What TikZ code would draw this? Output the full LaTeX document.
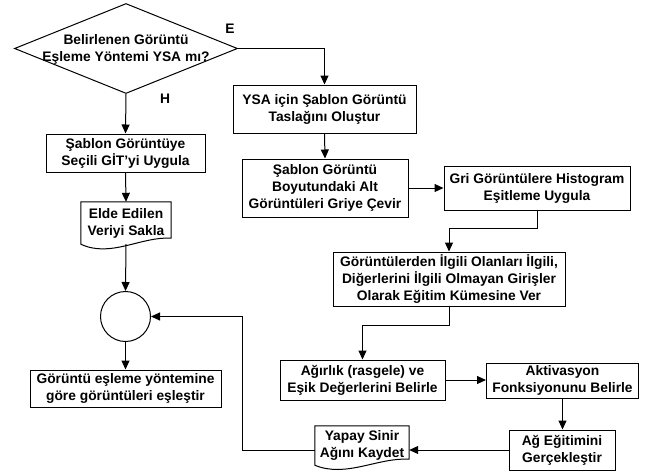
\documentclass[tikz,border=0pt]{standalone}
\usepackage{fontspec}
\setmainfont{Liberation Sans}
\usepackage{tikz}
\usetikzlibrary{arrows.meta,shapes.geometric,calc}

\tikzset{
    yazi/.style={font=\fontsize{13.8}{17}\selectfont\bfseries},
    kutu/.style={yazi, draw=black, line width=1pt, align=center, inner sep=0pt},
    belge/.style={yazi, align=center, inner sep=0pt},
    karar/.style={diamond, draw=black, line width=1pt, inner sep=0pt},
    daire/.style={circle, draw=black, line width=1pt, inner sep=0pt, minimum size=50},
    hat/.style={line width=1pt},
    ok/.style={line width=1pt, -{Triangle[length=9pt,width=8pt]}}
}

\begin{document}
\begin{tikzpicture}[x=1pt, y=-1pt]
    \useasboundingbox (0,0) rectangle (651,472);

    \node[karar, minimum width=223, minimum height=90] (karar) at (126,48.5) {};
    \node[belge] (kararyazi) at (126,49.5) {Belirlenen Görüntü\\Eşleme Yöntemi YSA mı?};
    \node[yazi] (evet) at (230,29) {E};
    \node[yazi] (hayir) at (165,99) {H};

    \node[kutu, minimum width=183, minimum height=48] (ysa) at (324.5,109)
        {YSA için Şablon Görüntü\\Taslağını Oluştur};
    \node[kutu, minimum width=166, minimum height=58] (boyut) at (325,188)
        {Şablon Görüntü\\Boyutundaki Alt\\Görüntüleri Griye Çevir};
    \node[kutu, minimum width=186, minimum height=44] (gri) at (537,188)
        {Gri Görüntülere Histogram\\Eşitleme Uygula};
    \node[kutu, minimum width=232, minimum height=54] (ilgili) at (449,279)
        {Görüntülerden İlgili Olanları İlgili,\\Diğerlerini İlgili Olmayan Girişler\\Olarak Eğitim Kümesine Ver};
    \node[kutu, minimum width=165, minimum height=40] (agirlik) at (362.5,380)
        {Ağırlık (rasgele) ve\\Eşik Değerlerini Belirle};
    \node[kutu, minimum width=152, minimum height=35] (aktiv) at (562.5,380.5)
        {Aktivasyon\\Fonksiyonunu Belirle};
    \node[kutu, minimum width=106, minimum height=40] (ag) at (562,450)
        {Ağ Eğitimini\\Gerçekleştir};
    \node[belge, minimum width=94, minimum height=39] (yapay) at (362,445.5)
        {Yapay Sinir\\Ağını Kaydet};

    \node[kutu, minimum width=159, minimum height=38] (sablon) at (125.5,153)
        {Şablon Görüntüye\\Seçili GİT’yi Uygula};
    \node[belge, minimum width=90, minimum height=42] (elde) at (126,223)
        {Elde Edilen\\Veriyi Sakla};
    \node[daire] (birlesim) at (125.5,316.5) {};
    \node[kutu, minimum width=191, minimum height=37] (eslestir) at (125.5,388.5)
        {Görüntü eşleme yöntemine\\göre görüntüleri eşleştir};

    \draw[hat] (elde.south west) -- (elde.north west) -- (elde.north east)
        -- ([yshift=6pt]elde.south east)
        .. controls ($(elde.south east)+(-30,-8)$) and ($(elde.south west)+(30,14)$)
        .. (elde.south west) -- cycle;
    \draw[hat] (yapay.south west) -- (yapay.north west) -- (yapay.north east)
        -- ([yshift=6pt]yapay.south east)
        .. controls ($(yapay.south east)+(-31,-8)$) and ($(yapay.south west)+(31,13)$)
        .. (yapay.south west) -- cycle;

    \draw[ok] (karar.east) -| (ysa.north);
    \draw[ok] (ysa.south) -- (boyut.north);
    \draw[ok] (boyut.east) -- (gri.west);
    \draw[ok] (gri.south) -- ++(0,18) -| (ilgili.north);
    \draw[ok] (ilgili.south) -- ++(0,19) -| (agirlik.north);
    \draw[ok] (agirlik.east) -- (aktiv.west |- agirlik.east);
    \draw[ok] (aktiv.south) -- (ag.north -| aktiv.south);
    \draw[ok] (ag.west) -- (yapay.east |- ag.west);
    \draw[ok] (yapay.west |- ag.west) -- ++(-72,0) |- (birlesim.east);

    \draw[ok] (karar.south) -- (sablon.north);
    \draw[ok] (sablon.south) -- (elde.north);
    \draw[ok] (elde.south) -- (birlesim.north);
    \draw[ok] (birlesim.south) -- (eslestir.north);
\end{tikzpicture}
\end{document}
